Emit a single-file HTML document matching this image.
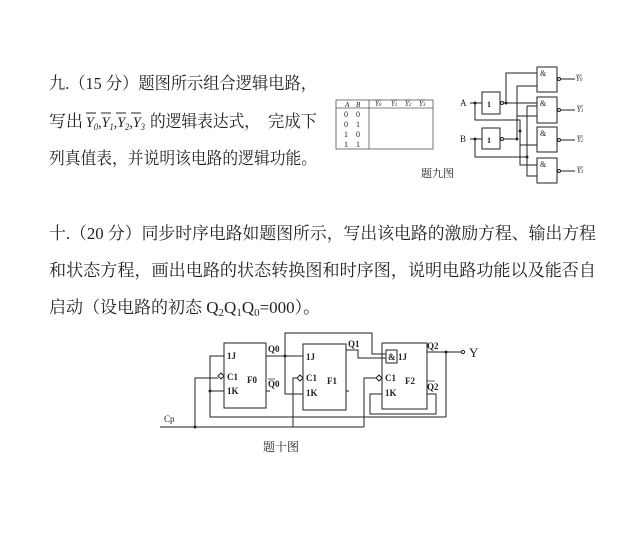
<!DOCTYPE html>
<html><head><meta charset="utf-8"><style>
html,body{margin:0;padding:0;background:#fff;width:644px;height:556px;overflow:hidden}
svg{display:block}
.t{font-family:"Liberation Serif","Noto Serif CJK SC",serif;font-size:17px;fill:#222}
.s{font-family:"Liberation Serif","Noto Serif CJK SC",serif;fill:#222}
</style></head><body>
<svg width="644" height="556" viewBox="0 0 644 556" xmlns="http://www.w3.org/2000/svg">
<g class="t">
<text x="49" y="89" textLength="268" lengthAdjust="spacingAndGlyphs">九.（15 分）题图所示组合逻辑电路，</text>
<text x="49" y="127">写出</text>
<text x="150" y="127" textLength="110" lengthAdjust="spacingAndGlyphs">的逻辑表达式，</text>
<text x="268" y="127" textLength="49" lengthAdjust="spacingAndGlyphs">完成下</text>
<text x="49" y="164" textLength="268" lengthAdjust="spacingAndGlyphs">列真值表，并说明该电路的逻辑功能。</text>
<text x="49" y="239" textLength="547" lengthAdjust="spacingAndGlyphs">十.（20 分）同步时序电路如题图所示，写出该电路的激励方程、输出方程</text>
<text x="49" y="276" textLength="547" lengthAdjust="spacingAndGlyphs">和状态方程，画出电路的状态转换图和时序图，说明电路功能以及能否自</text>
<text x="49" y="313">启动（设电路的初态 Q<tspan font-size="11" dy="3">2</tspan><tspan dy="-3">Q</tspan><tspan font-size="11" dy="3">1</tspan><tspan dy="-3">Q</tspan><tspan font-size="11" dy="3">0</tspan><tspan dy="-3">=000）。</tspan></text>
</g>
<g class="s" font-size="15" font-style="italic">
<text x="86" y="127" textLength="59" lengthAdjust="spacingAndGlyphs">Y<tspan font-size="9" dy="3">0</tspan><tspan dy="-3" font-style="normal">,</tspan>Y<tspan font-size="9" dy="3">1</tspan><tspan dy="-3" font-style="normal">,</tspan>Y<tspan font-size="9" dy="3">2</tspan><tspan dy="-3" font-style="normal">,</tspan>Y<tspan font-size="9" dy="3">3</tspan></text>
</g>
<g stroke="#222" stroke-width="1">
<line x1="86" y1="113" x2="96" y2="113"/><line x1="101" y1="113" x2="111" y2="113"/><line x1="116" y1="113" x2="126" y2="113"/><line x1="131" y1="113" x2="141" y2="113"/>
</g>
<g fill="none" stroke="#555" stroke-width="0.8">
<rect x="336" y="100" width="97" height="49"/>
<line x1="336" y1="108" x2="433" y2="108"/>
<line x1="369" y1="100" x2="369" y2="149"/>
</g>
<g class="s" font-size="7" font-style="italic" fill="#333">
<text x="345" y="107">A</text><text x="356" y="107">B</text>
<text x="375" y="106">Y<tspan font-size="5">0</tspan></text><text x="391" y="106">Y<tspan font-size="5">1</tspan></text><text x="405" y="106">Y<tspan font-size="5">2</tspan></text><text x="419" y="106">Y<tspan font-size="5">3</tspan></text>
</g>
<g stroke="#333" stroke-width="0.6"><line x1="375" y1="100" x2="381" y2="100"/><line x1="391" y1="100" x2="397" y2="100"/><line x1="405" y1="100" x2="411" y2="100"/><line x1="419" y1="100" x2="425" y2="100"/></g>
<g class="s" font-size="8" fill="#333">
<text x="344" y="117">0</text><text x="356" y="117">0</text>
<text x="344" y="127">0</text><text x="356" y="127">1</text>
<text x="344" y="137">1</text><text x="356" y="137">0</text>
<text x="344" y="147">1</text><text x="356" y="147">1</text>
</g>
<text x="421" y="177" class="s" font-size="11">题九图</text>
<g fill="none" stroke="#222" stroke-width="1">
<rect x="482" y="92" width="18" height="22"/>
<rect x="482" y="128" width="18" height="21"/>
<rect x="537" y="67" width="20" height="25"/>
<rect x="537" y="97" width="20" height="26"/>
<rect x="537" y="127" width="20" height="25"/>
<rect x="537" y="158" width="20" height="25"/>
<circle cx="502" cy="103" r="1.5"/><circle cx="502" cy="139" r="1.5"/>
<circle cx="559" cy="79" r="1.5"/><circle cx="559" cy="110" r="1.5"/><circle cx="559" cy="140" r="1.5"/><circle cx="559" cy="171" r="1.5"/>
<path d="M470 103H482 M470 139H482"/>
<path d="M561 79H575 M561 110H575 M561 140H575 M561 171H575"/>
<path d="M503 103H537 M506 103V73H537"/>
<path d="M475 103V120H520V165H537 M520 145H537"/>
<path d="M503 139H517V86H537 M517 116H537"/>
<path d="M475 139V157H527V176H537 M527 106H537 M527 106V157"/>
</g>
<g fill="#222"><circle cx="475" cy="103" r="1.5"/><circle cx="475" cy="139" r="1.5"/><circle cx="506" cy="103" r="1.5"/><circle cx="517" cy="139" r="1.5"/><circle cx="520" cy="131" r="1.5"/><circle cx="527" cy="157" r="1.5"/></g>
<g class="s" font-size="8" fill="#222">
<text x="487" y="107" font-weight="bold">1</text><text x="487" y="143" font-weight="bold">1</text>
<text x="540" y="76">&amp;</text><text x="540" y="106">&amp;</text><text x="540" y="136">&amp;</text><text x="540" y="167">&amp;</text>
<text x="460" y="106" font-size="9">A</text><text x="460" y="142" font-size="9">B</text>
<g font-style="italic" font-size="7"><text x="576" y="81">Y<tspan font-size="5">0</tspan></text><text x="577" y="112">Y<tspan font-size="5">1</tspan></text><text x="577" y="142">Y<tspan font-size="5">2</tspan></text><text x="577" y="173">Y<tspan font-size="5">3</tspan></text></g>
</g>
<g stroke="#222" stroke-width="0.6"><line x1="576" y1="75" x2="582" y2="75"/><line x1="577" y1="106" x2="583" y2="106"/><line x1="577" y1="136" x2="583" y2="136"/><line x1="577" y1="167" x2="583" y2="167"/></g>
<g fill="none" stroke="#222" stroke-width="1">
<rect x="224" y="343" width="42" height="65"/>
<rect x="303" y="344" width="43" height="66"/>
<rect x="382" y="343" width="45" height="66"/>
<rect x="386" y="350" width="11" height="13"/>
<path d="M224 376l-3 -3 -3 3 3 3z M303 378l-3 -3 -3 3 3 3z M382 378l-3 -3 -3 3 3 3z"/>
<path d="M160 427H364 M195 427V378H218 M293 427V378H297 M364 427V378H376"/>
<path d="M266 356H303 M285 356V394H303 M285 356V333H372V354H386"/>
<path d="M346 350H358V358H386"/>
<path d="M266 391H270 M346 391H349"/>
<path d="M224 356H210V417H446 M210 391H224"/>
<path d="M427 352H462 M446 352V417"/>
<path d="M427 394H436V414H370V394H382"/>
</g>
<g fill="#222"><circle cx="195" cy="427" r="1.5"/><circle cx="285" cy="356" r="1.5"/><circle cx="210" cy="391" r="1.5"/><circle cx="446" cy="352" r="1.5"/><circle cx="463" cy="352" r="1.6" fill="#fff" stroke="#222"/></g>
<g class="s" font-size="9" fill="#222" font-weight="bold">
<text x="227" y="359">1J</text><text x="227" y="380">C1</text><text x="227" y="394">1K</text><text x="247" y="383">F0</text>
<text x="306" y="360">1J</text><text x="306" y="381">C1</text><text x="306" y="396">1K</text><text x="327" y="384">F1</text>
<text x="398" y="360">1J</text><text x="385" y="381">C1</text><text x="385" y="396">1K</text><text x="405" y="384">F2</text>
<text x="388" y="360">&amp;</text>
<text x="268" y="352">Q0</text><text x="268" y="387">Q0</text>
<text x="348" y="347">Q1</text>
<text x="427" y="349">Q2</text><text x="427" y="390">Q2</text>
<text x="164" y="422" font-weight="normal">Cp</text>
</g>
<g stroke="#222" stroke-width="0.7"><line x1="268" y1="379" x2="275" y2="379"/><line x1="427" y1="381" x2="435" y2="381"/></g>
<text x="469" y="357" class="s" font-size="13">Y</text>
<text x="263" y="451" class="s" font-size="12">题十图</text>
</svg>
</body></html>
